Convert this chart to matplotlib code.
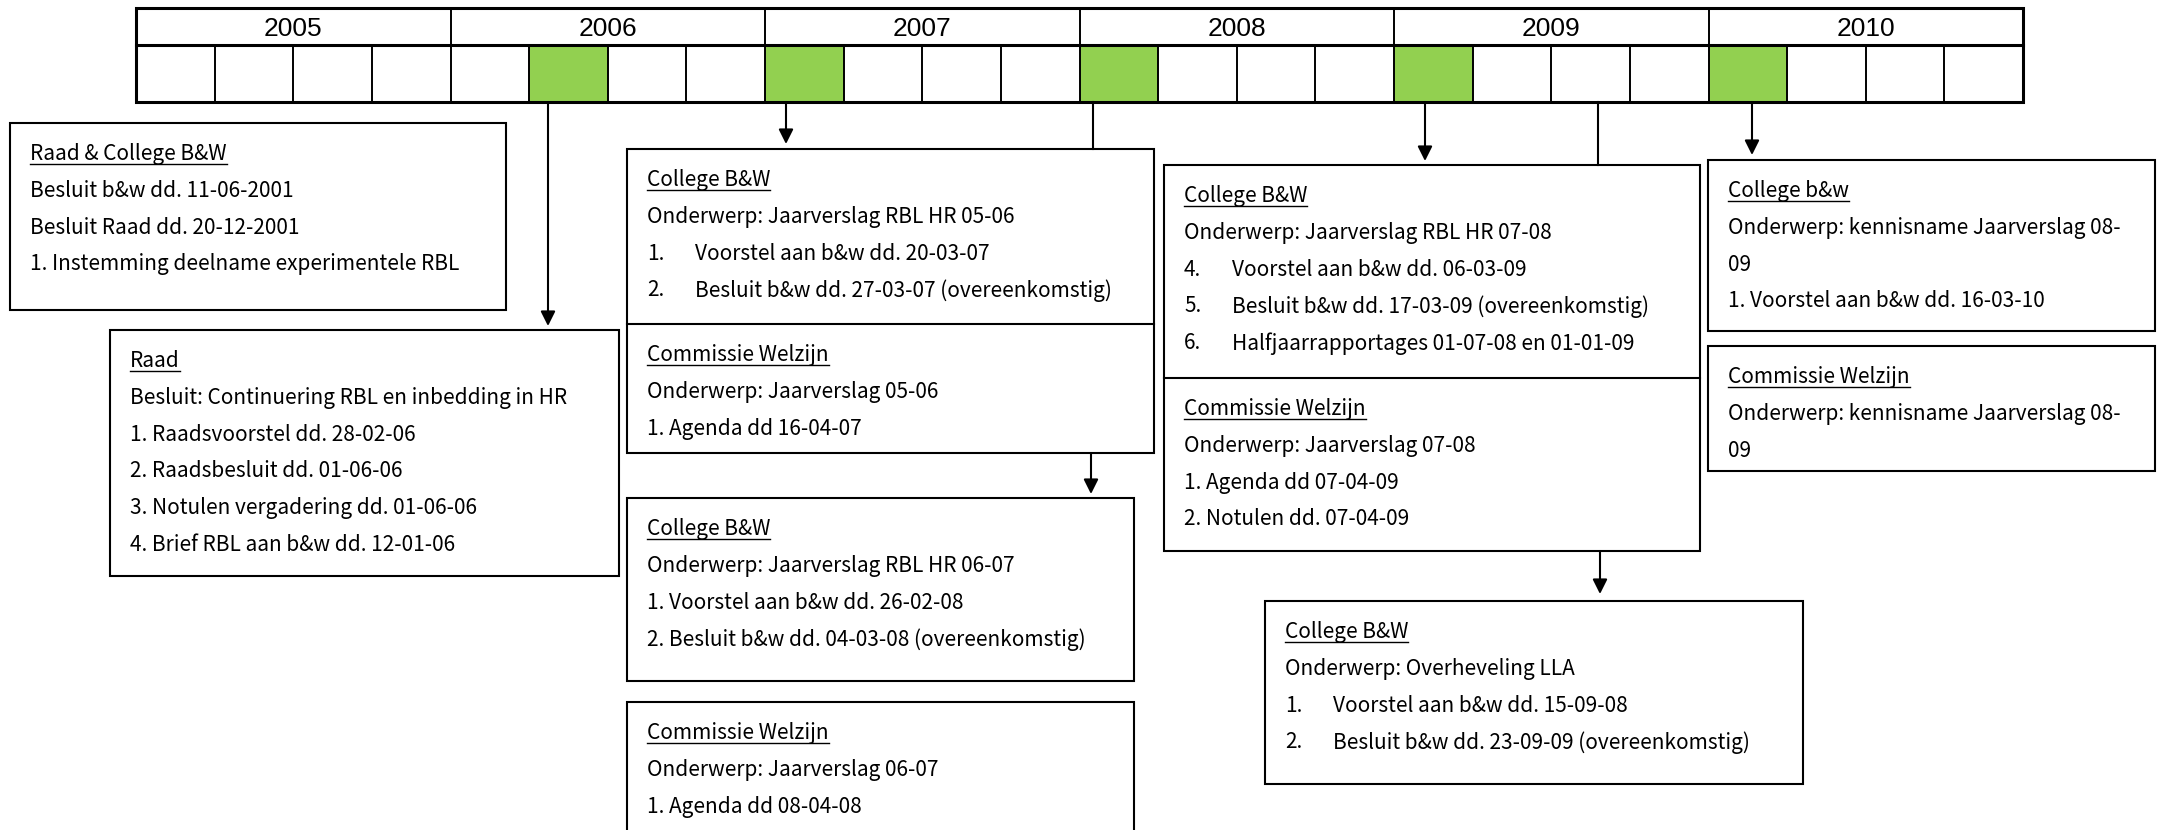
import matplotlib
matplotlib.use("Agg")
import matplotlib.pyplot as plt
from matplotlib.patches import Rectangle

# ---------------- data ----------------
years = ["2005", "2006", "2007", "2008", "2009", "2010"]
quarters_per_year = 4
highlighted = [("2006", 2), ("2007", 1), ("2008", 1), ("2009", 1), ("2010", 1)]

sec_raad_college = ("Raad & College B&W",
                    ["Besluit b&w dd. 11-06-2001",
                     "Besluit Raad dd. 20-12-2001",
                     "1. Instemming deelname experimentele RBL"])
sec_raad = ("Raad",
            ["Besluit: Continuering RBL en inbedding in HR",
             "1. Raadsvoorstel dd. 28-02-06",
             "2. Raadsbesluit dd. 01-06-06",
             "3. Notulen vergadering dd. 01-06-06",
             "4. Brief RBL aan b&w dd. 12-01-06"])
sec_college_0506 = ("College B&W",
                    ["Onderwerp: Jaarverslag RBL HR 05-06",
                     ("1.", "Voorstel aan b&w dd. 20-03-07"),
                     ("2.", "Besluit b&w dd. 27-03-07 (overeenkomstig)")])
sec_comm_0506 = ("Commissie Welzijn",
                 ["Onderwerp: Jaarverslag 05-06",
                  "1. Agenda dd 16-04-07"])
sec_college_0607 = ("College B&W",
                    ["Onderwerp: Jaarverslag RBL HR 06-07",
                     "1. Voorstel aan b&w dd. 26-02-08",
                     "2. Besluit b&w dd. 04-03-08 (overeenkomstig)"])
sec_comm_0607 = ("Commissie Welzijn",
                 ["Onderwerp: Jaarverslag 06-07",
                  "1. Agenda dd 08-04-08"])
sec_college_0708 = ("College B&W",
                    ["Onderwerp: Jaarverslag RBL HR 07-08",
                     ("4.", "Voorstel aan b&w dd. 06-03-09"),
                     ("5.", "Besluit b&w dd. 17-03-09 (overeenkomstig)"),
                     ("6.", "Halfjaarrapportages 01-07-08 en 01-01-09")])
sec_comm_0708 = ("Commissie Welzijn",
                 ["Onderwerp: Jaarverslag 07-08",
                  "1. Agenda dd 07-04-09",
                  "2. Notulen dd. 07-04-09"])
sec_overheveling = ("College B&W",
                    ["Onderwerp: Overheveling LLA",
                     ("1.", "Voorstel aan b&w dd. 15-09-08"),
                     ("2.", "Besluit b&w dd. 23-09-09 (overeenkomstig)")])
sec_college_0809 = ("College b&w",
                    ["Onderwerp: kennisname Jaarverslag 08-",
                     "09",
                     "1. Voorstel aan b&w dd. 16-03-10"])
sec_comm_0809 = ("Commissie Welzijn",
                 ["Onderwerp: kennisname Jaarverslag 08-",
                  "09"])

# ---------------- layout (pixels) ----------------
W, H = 2158, 830
TL_X0, TL_X1 = 136, 2023
TL_Y0, TL_YM, TL_Y1 = 8, 45, 102
GREEN = "#92D050"

# (x0, y0, x1, y1, sections, divider_y)
boxes = [
    (10, 123, 506, 310, [sec_raad_college], None),
    (110, 330, 619, 576, [sec_raad], None),
    (627, 149, 1154, 453, [sec_college_0506, sec_comm_0506], 324),
    (627, 498, 1134, 681, [sec_college_0607], None),
    (627, 702, 1134, 860, [sec_comm_0607], None),
    (1164, 165, 1700, 551, [sec_college_0708, sec_comm_0708], 378),
    (1265, 601, 1803, 784, [sec_overheveling], None),
    (1708, 160, 2155, 331, [sec_college_0809], None),
    (1708, 346, 2155, 471, [sec_comm_0809], None),
]
arrows = [(548, 102, 326), (786, 102, 144), (1091, 453, 494),
          (1425, 102, 161), (1600, 551, 594), (1752, 102, 155)]
plain_lines = [(1093, 102, 149), (1598, 102, 165)]

LINE_SP = 36.8
FIRST_OFF = 31
TEXT_DX = 20
TAB_DX = 48
FS = 15
FONT = ["Noto Sans CJK KR", "DejaVu Sans"]

fig = plt.figure(figsize=(W / 100, H / 100), dpi=100)
ax = fig.add_axes([0, 0, 1, 1])
ax.set_xlim(0, W)
ax.set_ylim(H, 0)
ax.axis("off")

# ---------------- timeline ----------------
nq = len(years) * quarters_per_year
qw = (TL_X1 - TL_X0) / nq
yw = (TL_X1 - TL_X0) / len(years)
for (yr, q) in highlighted:
    idx = years.index(yr) * quarters_per_year + (q - 1)
    ax.add_patch(Rectangle((TL_X0 + idx * qw, TL_YM), qw, TL_Y1 - TL_YM,
                           facecolor=GREEN, edgecolor="none", zorder=1))
for i in range(1, nq):
    x = TL_X0 + i * qw
    ax.plot([x, x], [TL_YM, TL_Y1], color="black", lw=1.4, zorder=2)
for i in range(1, len(years)):
    x = TL_X0 + i * yw
    ax.plot([x, x], [TL_Y0, TL_YM], color="black", lw=1.4, zorder=2)
for i, yr in enumerate(years):
    ax.text(TL_X0 + (i + 0.5) * yw, (TL_Y0 + TL_YM) / 2 + 2, yr,
            family="Liberation Sans", fontsize=19, ha="center", va="center")
ax.plot([TL_X0, TL_X1], [TL_YM, TL_YM], color="black", lw=2.2, zorder=3)
ax.add_patch(Rectangle((TL_X0, TL_Y0), TL_X1 - TL_X0, TL_Y1 - TL_Y0,
                       facecolor="none", edgecolor="black", lw=2.2, zorder=3))

# ---------------- boxes ----------------
underline_texts = []
for (x0, y0, x1, y1, sections, div) in boxes:
    ax.add_patch(Rectangle((x0, y0), x1 - x0, y1 - y0, facecolor="white",
                           edgecolor="black", lw=1.5, zorder=4, clip_on=False))
    if div is not None:
        ax.plot([x0, x1], [div, div], color="black", lw=1.5, zorder=5)
    starts = [y0 + FIRST_OFF]
    if div is not None:
        starts.append(div + FIRST_OFF)
    for (header, lines), sy in zip(sections, starts):
        t = ax.text(x0 + TEXT_DX, sy, header, family=FONT, fontsize=FS,
                    ha="left", va="center", zorder=6)
        underline_texts.append(t)
        for k, ln in enumerate(lines):
            yy = sy + (k + 1) * LINE_SP
            if isinstance(ln, tuple):
                ax.text(x0 + TEXT_DX, yy, ln[0], family=FONT, fontsize=FS,
                        ha="left", va="center", zorder=6)
                ax.text(x0 + TEXT_DX + TAB_DX, yy, ln[1], family=FONT,
                        fontsize=FS, ha="left", va="center", zorder=6)
            else:
                ax.text(x0 + TEXT_DX, yy, ln, family=FONT, fontsize=FS,
                        ha="left", va="center", zorder=6)

# ---------------- connectors ----------------
for (x, ya, yb) in arrows:
    ax.annotate("", xy=(x, yb), xytext=(x, ya),
                arrowprops=dict(arrowstyle="-|>", color="black", lw=1.5,
                                mutation_scale=22, shrinkA=0, shrinkB=0),
                zorder=7)
for (x, ya, yb) in plain_lines:
    ax.plot([x, x], [ya, yb], color="black", lw=1.5, zorder=7)

# ---------------- underlines ----------------
fig.canvas.draw()
renderer = fig.canvas.get_renderer()
inv = ax.transData.inverted()
for t in underline_texts:
    bb = t.get_window_extent(renderer)
    (bx0, by0) = inv.transform((bb.x0, bb.y0))
    (bx1, _) = inv.transform((bb.x1, bb.y0))
    ax.plot([bx0, bx1], [by0 - 1, by0 - 1], color="black", lw=1.0, zorder=6)

fig.savefig("out.png", dpi=100, facecolor="white")
